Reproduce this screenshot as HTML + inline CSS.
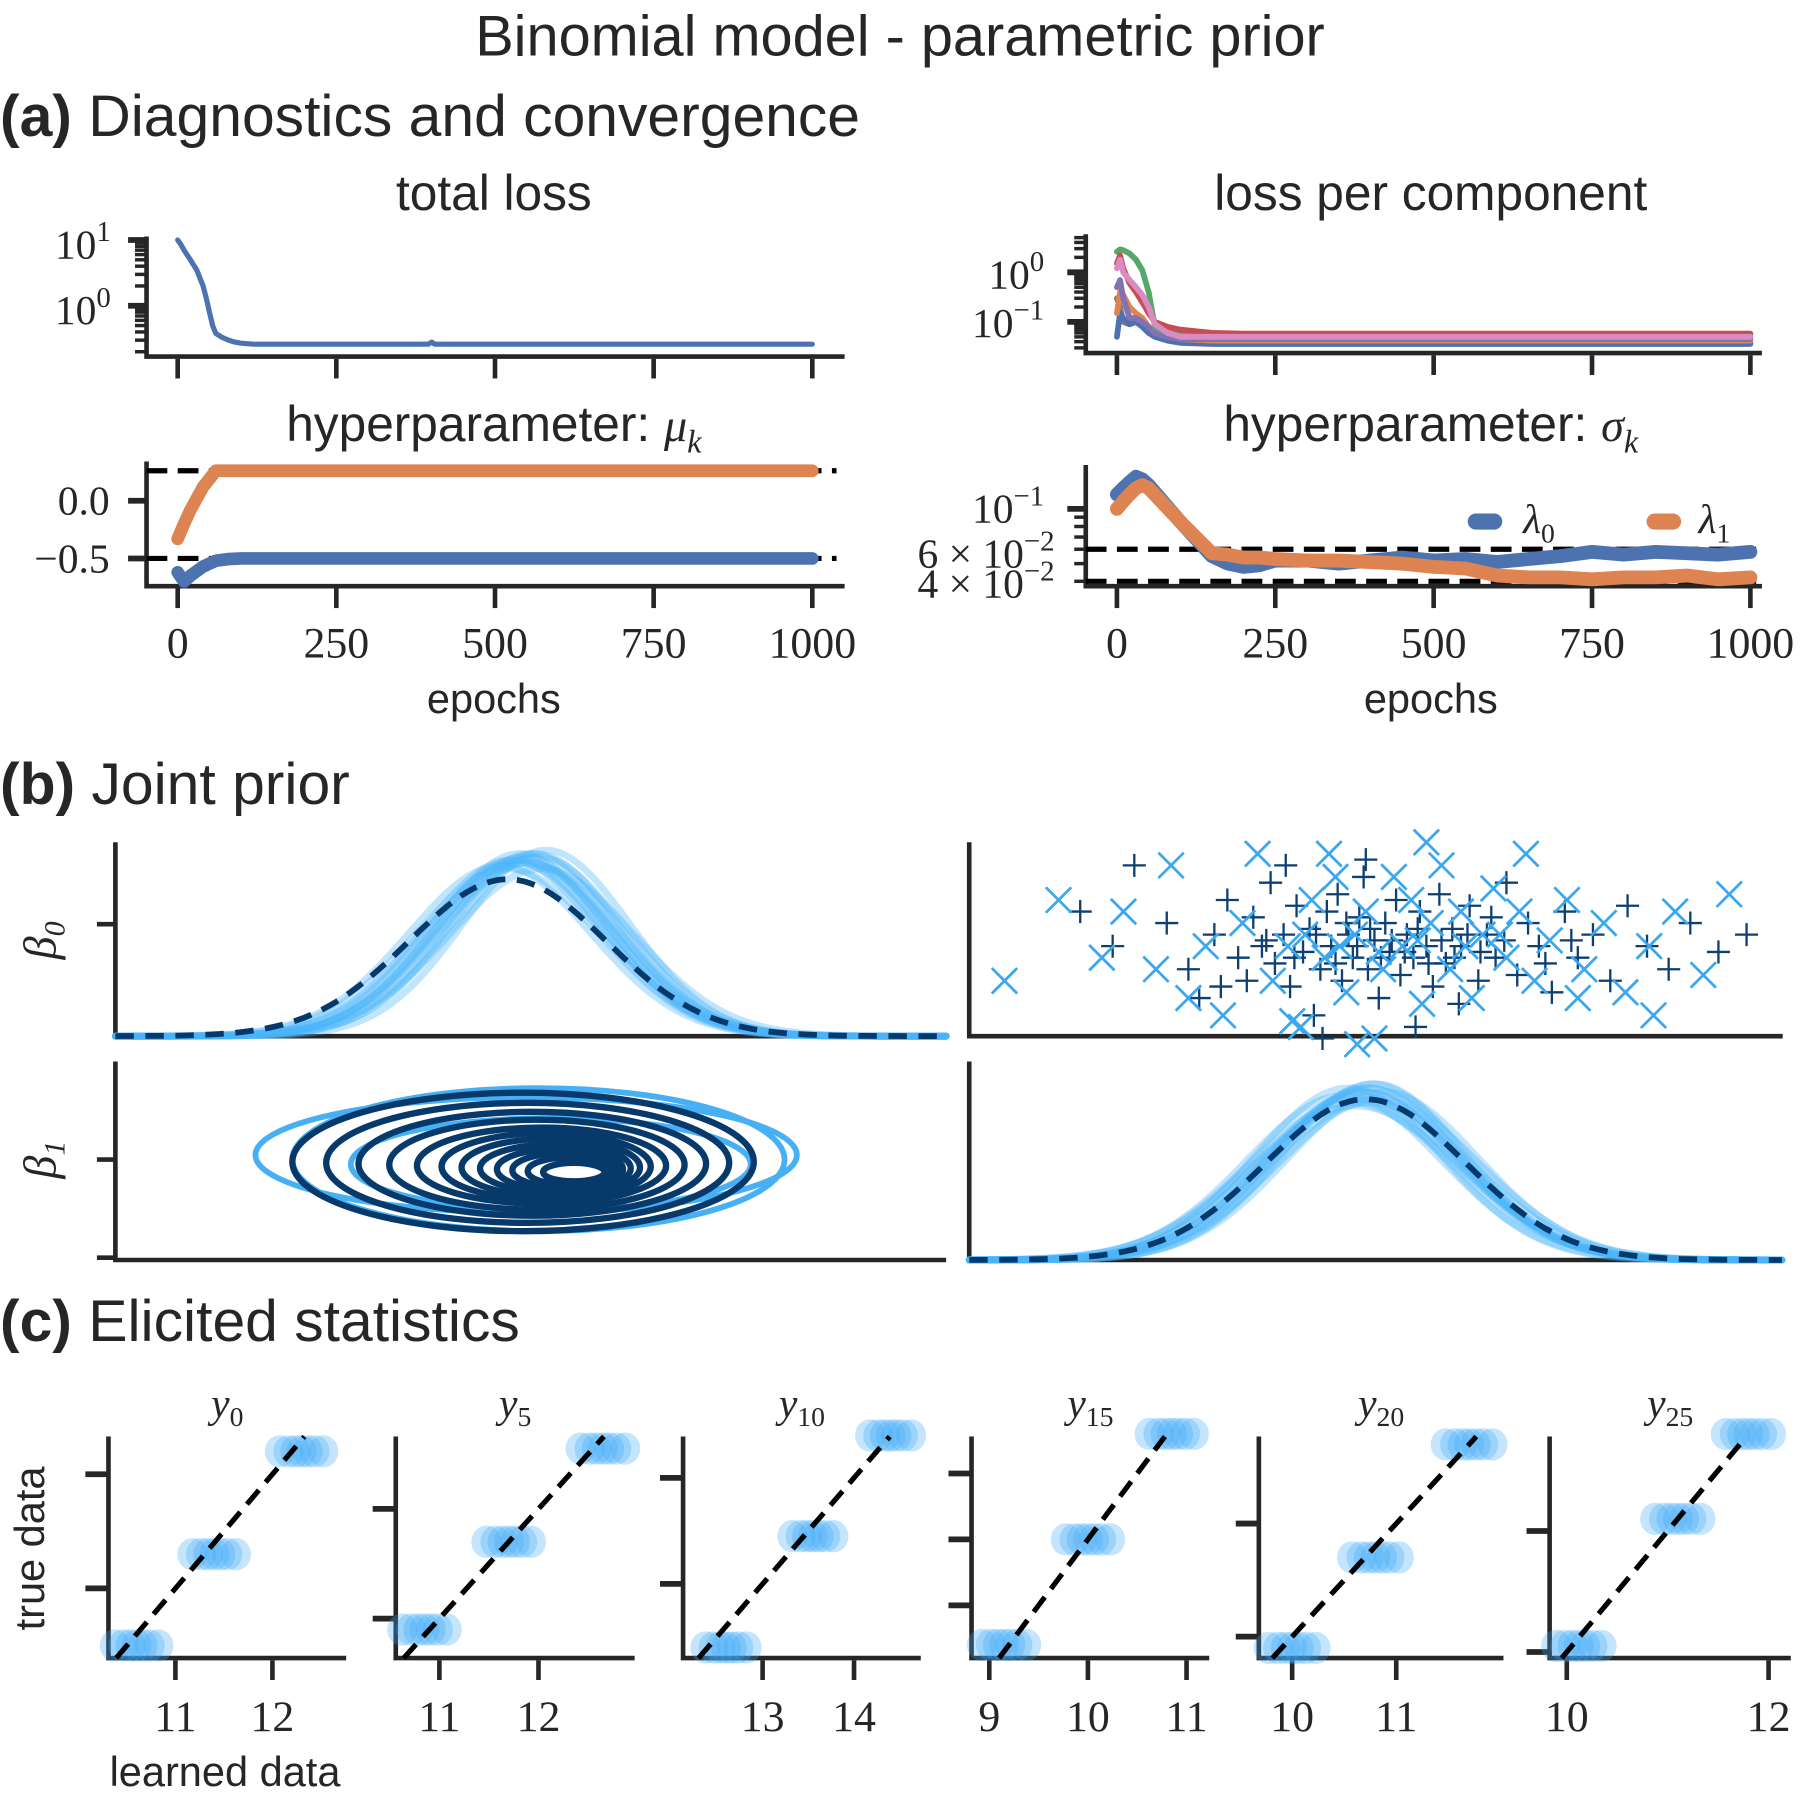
<!DOCTYPE html>
<html><head><meta charset="utf-8"><style>
html,body{margin:0;padding:0;background:#fff}
svg{display:block}
.sans{font-family:"Liberation Sans",sans-serif;fill:#262626}
.ser{font-family:"Liberation Serif",serif;fill:#262626}
</style></head><body>
<svg id="fig" xmlns="http://www.w3.org/2000/svg" width="1800" height="1800" viewBox="0 0 1560 1560">
<rect width="1560" height="1560" fill="#fff"/>
<text class="sans" x="780" y="48" font-size="50" text-anchor="middle">Binomial model - parametric prior</text>
<text class="sans" x="0" y="118" font-size="51"><tspan font-weight="bold">(a)</tspan> Diagnostics and convergence</text>
<text class="sans" x="0" y="697" font-size="51"><tspan font-weight="bold">(b)</tspan> Joint prior</text>
<text class="sans" x="0" y="1162" font-size="51"><tspan font-weight="bold">(c)</tspan> Elicited statistics</text>
<text class="sans" x="428" y="182" font-size="43" text-anchor="middle">total loss</text>
<text class="sans" x="1240" y="182" font-size="43" text-anchor="middle">loss per component</text>
<text class="sans" x="428" y="382" font-size="43" text-anchor="middle">hyperparameter: <tspan class="ser" font-style="italic" font-size="40">μ</tspan><tspan class="ser" font-style="italic" font-size="28" dy="10">k</tspan></text>
<text class="sans" x="1240" y="382" font-size="43" text-anchor="middle">hyperparameter: <tspan class="ser" font-style="italic" font-size="40">σ</tspan><tspan class="ser" font-style="italic" font-size="28" dy="10">k</tspan></text>
<text class="sans" x="428" y="618" font-size="36" text-anchor="middle">epochs</text>
<text class="sans" x="1240" y="618" font-size="36" text-anchor="middle">epochs</text>
<text class="ser" font-style="italic" font-size="40" transform="translate(48,815) rotate(-90)" text-anchor="middle">β<tspan font-size="26" dy="8">0</tspan></text>
<text class="ser" font-style="italic" font-size="40" transform="translate(48,1005) rotate(-90)" text-anchor="middle">β<tspan font-size="26" dy="8">1</tspan></text>
<text class="sans" font-size="36" transform="translate(38,1342) rotate(-90)" text-anchor="middle">true data</text>
<text class="sans" x="195" y="1548" font-size="36" text-anchor="middle">learned data</text>
<g id="g"></g>
</svg>
<script>
// ---------- data ----------
const epochTicks=[0,250,500,750,1000];
const tlEpochs=[0,5,10,20,30,40,45,50,55,60,70,80,90,100,120,150,200,300,395,400,405,500,600,700,800,900,1000];
const tlValues=[10,8.5,7,5,3.5,2,1.3,0.8,0.5,0.38,0.33,0.3,0.28,0.27,0.26,0.26,0.26,0.26,0.26,0.28,0.26,0.26,0.26,0.26,0.26,0.26,0.26];
const lcEpochs=[0,5,10,20,30,40,50,60,80,100,150,200,400,600,800,1000];
const lcBlue=[0.05,0.15,0.12,0.09,0.1,0.08,0.06,0.05,0.042,0.038,0.036,0.036,0.036,0.036,0.036,0.036];
const lcOrange=[0.15,0.4,0.35,0.2,0.15,0.12,0.08,0.06,0.05,0.045,0.042,0.042,0.042,0.042,0.042,0.042];
const lcGreen=[2.6,2.9,2.8,2.4,1.8,1.1,0.4,0.08,0.06,0.055,0.05,0.05,0.05,0.05,0.05,0.05];
const lcRed=[1.5,2.2,1.2,0.6,0.4,0.25,0.15,0.1,0.08,0.07,0.06,0.058,0.058,0.058,0.058,0.058];
const lcPurple=[0.5,0.7,0.3,0.12,0.12,0.1,0.08,0.06,0.05,0.045,0.045,0.045,0.045,0.045,0.045,0.045];
const lcBrown=[0.3,0.2,0.1,0.09,0.11,0.09,0.07,0.055,0.045,0.04,0.038,0.038,0.038,0.038,0.038,0.038];
const lcPink=[1.2,1.8,1.0,0.7,0.5,0.35,0.2,0.09,0.06,0.05,0.05,0.05,0.05,0.05,0.05,0.05];
const muEpochs=[0,10,20,40,60,80,100,200,400,600,800,1000];
const muLambda0=[-0.62,-0.70,-0.65,-0.57,-0.52,-0.505,-0.5,-0.5,-0.5,-0.5,-0.5,-0.5];
const muLambda1=[-0.33,-0.2,-0.08,0.12,0.26,0.26,0.26,0.26,0.26,0.26,0.26,0.26];
const muTargets=[0.26,-0.5];
const muTicks=[0.0,-0.5];
const muTickLabels=["0.0","−0.5"];
const sgEpochs=[0,10,20,30,40,50,100,150,175,200,225,250,300,350,400,450,500,550,600,650,700,750,800,850,900,950,1000];
const sgLambda0=[0.12,0.13,0.14,0.15,0.145,0.135,0.085,0.055,0.05,0.048,0.049,0.052,0.052,0.05,0.052,0.054,0.052,0.053,0.051,0.053,0.055,0.058,0.056,0.058,0.057,0.056,0.058];
const sgLambda1=[0.1,0.11,0.12,0.13,0.135,0.13,0.085,0.057,0.056,0.054,0.054,0.053,0.052,0.052,0.051,0.05,0.048,0.047,0.043,0.042,0.042,0.041,0.042,0.042,0.043,0.041,0.042];
const sgTargets=[0.06,0.04];
const b0Mus=[-0.49,-0.495,-0.485,-0.5,-0.48,-0.49,-0.505,-0.475,-0.495,-0.488,-0.482,-0.498,-0.478,-0.492,-0.486];
const b0Sds=[0.056,0.058,0.055,0.06,0.056,0.057,0.059,0.054,0.057,0.058,0.055,0.057,0.06,0.055,0.058];
const b0True=[-0.5,0.064];
const b1Mus=[0.262,0.258,0.265,0.255,0.26,0.268,0.252,0.263,0.257,0.261,0.266,0.259,0.27,0.254,0.264];
const b1Sds=[0.043,0.045,0.042,0.047,0.044,0.046,0.045,0.043,0.048,0.044,0.042,0.046,0.044,0.043,0.047];
const b1True=[0.262,0.046];
const plusPts=[[0.130,-0.47],[0.145,-0.50],[0.155,-0.43],[0.170,-0.48],[0.180,-0.52],[0.185,-0.545],[0.192,-0.49],[0.198,-0.46],[0.203,-0.51],[0.207,-0.53],[0.210,-0.475],[0.214,-0.50],[0.218,-0.445],[0.220,-0.515],[0.224,-0.49],[0.227,-0.535],[0.230,-0.465],[0.233,-0.505],[0.236,-0.485],[0.238,-0.56],[0.241,-0.52],[0.244,-0.47],[0.246,-0.50],[0.249,-0.455],[0.251,-0.53],[0.254,-0.49],[0.256,-0.51],[0.259,-0.475],[0.261,-0.44],[0.263,-0.52],[0.266,-0.495],[0.268,-0.545],[0.271,-0.48],[0.273,-0.505],[0.276,-0.46],[0.278,-0.525],[0.281,-0.49],[0.284,-0.51],[0.287,-0.47],[0.290,-0.50],[0.293,-0.535],[0.296,-0.455],[0.299,-0.515],[0.302,-0.485],[0.306,-0.50],[0.310,-0.465],[0.314,-0.53],[0.318,-0.49],[0.322,-0.51],[0.327,-0.445],[0.332,-0.525],[0.337,-0.48],[0.342,-0.50],[0.348,-0.54],[0.354,-0.47],[0.360,-0.51],[0.367,-0.49],[0.375,-0.53],[0.383,-0.465],[0.392,-0.50],[0.402,-0.52],[0.412,-0.48],[0.425,-0.505],[0.438,-0.49],[0.242,-0.58],[0.262,-0.425],[0.285,-0.57],[0.225,-0.43],[0.305,-0.55],[0.195,-0.535],[0.216,-0.495],[0.229,-0.51],[0.239,-0.49],[0.248,-0.515],[0.253,-0.48],[0.258,-0.50],[0.264,-0.485],[0.269,-0.51],[0.274,-0.495],[0.280,-0.505],[0.286,-0.485],[0.291,-0.515],[0.297,-0.495],[0.303,-0.51],[0.309,-0.49],[0.315,-0.505],[0.320,-0.475],[0.326,-0.495],[0.345,-0.515],[0.357,-0.495]];
const crossPts=[[0.095,-0.53],[0.120,-0.46],[0.140,-0.51],[0.150,-0.47],[0.165,-0.52],[0.172,-0.43],[0.188,-0.50],[0.196,-0.56],[0.205,-0.48],[0.212,-0.42],[0.219,-0.53],[0.226,-0.50],[0.232,-0.57],[0.237,-0.46],[0.243,-0.51],[0.248,-0.44],[0.253,-0.54],[0.257,-0.49],[0.262,-0.47],[0.266,-0.58],[0.270,-0.52],[0.275,-0.44],[0.279,-0.50],[0.283,-0.46],[0.288,-0.55],[0.292,-0.48],[0.297,-0.43],[0.301,-0.52],[0.306,-0.47],[0.311,-0.545],[0.316,-0.49],[0.321,-0.45],[0.327,-0.51],[0.333,-0.47],[0.340,-0.53],[0.347,-0.495],[0.355,-0.46],[0.363,-0.52],[0.372,-0.48],[0.382,-0.54],[0.393,-0.50],[0.405,-0.47],[0.418,-0.525],[0.430,-0.455],[0.245,-0.42],[0.290,-0.41],[0.180,-0.545],[0.228,-0.565],[0.258,-0.585],[0.336,-0.42],[0.360,-0.545],[0.395,-0.56],[0.234,-0.49],[0.268,-0.505],[0.286,-0.495],[0.308,-0.50],[0.324,-0.49],[0.250,-0.50]];
const contourDarkW=[0.150,0.131,0.113,0.096,0.081,0.068,0.058,0.049,0.041,0.034,0.027,0.020];
const contourDarkH=[0.060,0.052,0.045,0.039,0.033,0.029,0.025,0.021,0.018,0.015,0.012,0.008];
const contourLightW=[0.176,0.160,0.130];
const contourLightH=[0.050,0.062,0.040];
const elicitTitles=["0","5","10","15","20","25"];
const elicitXTicks=[[11,12],[11,12],[13,14],[9,10,11],[10,11],[10,12]];
const elicitYTicks=[[11,12],[11,12],[13,14],[9.5,10,10.5],[10,11],[10,11]];
const elicitTrue=[[10.5,11.3,12.2],[10.9,11.7,12.55],[12.4,13.45,14.4],[9.2,10.0,10.8],[9.9,10.7,11.7],[10.05,11.1,11.8]];
const elicitLearned=[[10.6,11.4,12.3],[10.85,11.7,12.65],[12.6,13.55,14.4],[9.15,10.0,10.85],[10.0,10.8,11.7],[10.12,11.1,11.8]];
const elicitSpread=[-0.25,-0.15,-0.07,0,0.07,0.15,0.25];
// ---------- helpers ----------
const NS="http://www.w3.org/2000/svg";
const G=document.getElementById('g');
function mk(tag,attrs,parent){const e=document.createElementNS(NS,tag);for(const k in attrs)e.setAttribute(k,attrs[k]);(parent||G).appendChild(e);return e;}
const AX="#262626";
function lin(d0,d1,r0,r1){return v=>r0+(v-d0)/(d1-d0)*(r1-r0);}
function logs(d0,d1,r0,r1){return v=>r0+(Math.log10(v)-Math.log10(d0))/(Math.log10(d1)-Math.log10(d0))*(r1-r0);}
function axesLines(x0,x1,y0,y1,name){
  const a=mk('path',{d:`M${x0} ${y0} V${y1} H${x1}`,fill:'none',stroke:AX,'stroke-width':4});
  
  
}
function pathD(xs,ys,sx,sy){return xs.map((v,i)=>(i?'L':'M')+sx(v).toFixed(1)+' '+sy(ys[i]).toFixed(1)).join(' ');}
function line(xs,ys,sx,sy,color,w,name,extra){
  const p=mk('path',Object.assign({d:pathD(xs,ys,sx,sy),fill:'none',stroke:color,'stroke-width':w,'stroke-linecap':'round','stroke-linejoin':'round'},extra||{}));
  
  
}
function xTicks(ticks,sx,yb,labels,name,fs,ly){
  ticks.forEach((t,i)=>{
    const l=mk('line',{x1:sx(t),x2:sx(t),y1:yb,y2:yb+17,stroke:AX,'stroke-width':4});
    
    
    if(labels){const tx=mk('text',{x:sx(t),y:ly,'font-size':fs||38,'text-anchor':'middle',class:'ser'});tx.textContent=labels[i];
    
    }
  });
}
function yTick(x,y,len,w,name){
  const l=mk('line',{x1:x-len,x2:x,y1:y,y2:y,stroke:AX,'stroke-width':w});
  
  
}
function powLabel(x,y,base,exp,name){
  const t=mk('text',{x:x,y:y,'font-size':36,'text-anchor':'end',class:'ser'});
  t.innerHTML=base+'<tspan dy="-15" font-size="25">'+exp+'</tspan>';
  
  
}
function hdash(x0,x1,y,name){
  const l=mk('line',{x1:x0,x2:x1,y1:y,y2:y,stroke:'#000','stroke-width':4.5,'stroke-dasharray':'18 9'});
  
  
}
// ---------- (a) total loss ----------
{const sx=lin(0,1000,154,704), sy=logs(1,10,265,208);
 axesLines(127,732,205,309,'total-loss');
 xTicks(epochTicks,sx,311,null,'total-loss-x');
 for(let e=-1;e<=1;e++)for(let m=1;m<10;m++){const v=m*Math.pow(10,e);const y=sy(v);if(y<205||y>309)continue;yTick(127,y,m===1?16:10,m===1?5:3,'total-loss-y-tick');}
 powLabel(96,224,'10','1','total-loss-y-label'); powLabel(96,281,'10','0','total-loss-y-label');
 line(tlEpochs,tlValues,sx,sy,'#4c72b0',4.5,'total-loss-line');}
// ---------- (a) loss per component ----------
{const sx=lin(0,1000,968,1517), sy=logs(0.1,1,279,236);
 axesLines(941,1527,203,306,'loss-component');
 xTicks(epochTicks,sx,308,null,'loss-component-x');
 for(let e=-2;e<=0;e++)for(let m=1;m<10;m++){const v=m*Math.pow(10,e);const y=sy(v);if(y<203||y>306)continue;yTick(941,y,m===1?16:10,m===1?5:3,'loss-component-y-tick');}
 powLabel(905,250,'10','0','loss-component-y-label'); powLabel(905,292,'10','−1','loss-component-y-label');
 const series=[[lcBrown,'#937860'],[lcBlue,'#4c72b0'],[lcOrange,'#dd8452'],[lcPurple,'#8172b3'],[lcGreen,'#55a868'],[lcRed,'#c44e52'],[lcPink,'#da8bc3']];
 series.forEach((s,i)=>line(lcEpochs,s[0],sx,sy,s[1],5,'loss-component-line-'+i));}
// ---------- (a) mu ----------
{const sx=lin(0,1000,154,704), sy=lin(0,-0.5,434,484);
 axesLines(127,732,400,508,'mu');
 xTicks(epochTicks,sx,510,epochTicks.map(String),'mu-x',38,570);
 muTicks.forEach((t,i)=>{yTick(127,sy(t),16,5,'mu-y-tick');const tx=mk('text',{x:95,y:sy(t)+12,'font-size':36,'text-anchor':'end',class:'ser'});tx.textContent=muTickLabels[i];
 
 });
 muTargets.forEach(t=>hdash(127,725,sy(t),'mu-target-line'));
 line(muEpochs,muLambda1,sx,sy,'#dd8452',11,'mu-lambda1-line');
 line(muEpochs,muLambda0,sx,sy,'#4c72b0',11,'mu-lambda0-line');}
// ---------- (a) sigma ----------
{const sx=lin(0,1000,968,1517), sy=logs(0.1,0.06,441,476);
 axesLines(941,1527,403,508,'sigma');
 xTicks(epochTicks,sx,510,epochTicks.map(String),'sigma-x',38,570);
 [0.04,0.05,0.06,0.07,0.08,0.09,0.1].forEach(v=>{const y=sy(v);yTick(941,y,v===0.1?16:10,v===0.1?5:3,'sigma-y-tick');});
 powLabel(905,453,'10','−1','sigma-y-label');
 powLabel(914,492,'6 × 10','−2','sigma-y-label'); powLabel(914,518,'4 × 10','−2','sigma-y-label');
 sgTargets.forEach(t=>hdash(941,1522,sy(t),'sigma-target-line'));
 line(sgEpochs,sgLambda0,sx,sy,'#4c72b0',12,'sigma-lambda0-line');
 line(sgEpochs,sgLambda1,sx,sy,'#dd8452',12,'sigma-lambda1-line');
 const lg=mk('g',{});
 
 [['#4c72b0',1287,'0',1320],['#dd8452',1442,'1',1472]].forEach(e=>{
  const m=mk('line',{x1:e[1]-8,x2:e[1]+8,y1:452,y2:452,stroke:e[0],'stroke-width':14,'stroke-linecap':'round'},lg);
  
  
  const t=mk('text',{x:e[3],y:462,'font-size':36,class:'ser','font-style':'italic'},lg);t.innerHTML='λ<tspan font-style="normal" font-size="24" dy="8">'+e[2]+'</tspan>';
  
  });}
// ---------- (b) joint prior ----------
const sB0=lin(-0.755,-0.215,100,820);
const sB1=lin(0.0787,0.4547,840,1545);
const rowB0=v=>820-(v+0.5)*1000;
const rowB1=v=>1005-(v-0.262)*1000;
function dens(x,m,s){return Math.exp(-0.5*((x-m)/s)**2)/(s*Math.sqrt(2*Math.PI));}
function kde(xs,sx,sy,m,s,color,w,name,extra){const ys=xs.map(x=>dens(x,m,s));line(xs,ys,sx,sy,color,w,name,extra);}
{axesLines(100,820,730,898,'kde-beta0');
 yTick(100,rowB0(-0.481),16,4,'kde-beta0-y-tick');
 const grid=[];for(let i=0;i<=120;i++)grid.push(-0.755+i*0.0045);
 const sy=lin(0,7.7,898,730);
 b0Mus.forEach((m,i)=>kde(grid,sB0,sy,m,b0Sds[i],'#4ab5fa',6,'kde-beta0-sample',{'stroke-opacity':0.35}));
 kde(grid,sB0,sy,b0True[0],b0True[1],'#06396b',5,'kde-beta0-true',{'stroke-dasharray':'16 10','stroke-linecap':'butt'});}
{axesLines(840,1545,730,898,'scatter');
 plusPts.forEach(p=>{const x=sB1(p[0]),y=rowB0(p[1]);const e=mk('path',{d:`M${x-10} ${y}H${x+10}M${x} ${y-10}V${y+10}`,stroke:'#0d3f73','stroke-width':2});
  
  });
 crossPts.forEach(p=>{const x=sB1(p[0]),y=rowB0(p[1]);const e=mk('path',{d:`M${x-11} ${y-11}L${x+11} ${y+11}M${x-11} ${y+11}L${x+11} ${y-11}`,stroke:'#3ba7ee','stroke-width':2.4});
  
  });}
{axesLines(100,820,920,1092,'contour');
 yTick(100,rowB1(0.262),16,4,'contour-y-tick');
 yTick(100,1090,16,4,'contour-y-tick');
 const cx=-0.48, cy=0.262;
 contourLightW.forEach((w,i)=>{const e=mk('ellipse',{cx:sB0(cx+(i-1)*0.008),cy:rowB1(cy-(i-1)*0.004),rx:w*1333,ry:contourLightH[i]*1000,fill:'none',stroke:'#47b0f5','stroke-width':5});
  
  });
 contourDarkW.forEach((w,i)=>{const e=mk('ellipse',{cx:sB0(cx-0.01+i*0.003),cy:rowB1(cy-0.002-i*0.0008),rx:w*1333,ry:contourDarkH[i]*1000,fill:'none',stroke:'#073a6b','stroke-width':5.5});
  
  });}
{axesLines(840,1545,920,1092,'kde-beta1');
 const grid=[];for(let i=0;i<=120;i++)grid.push(0.0787+i*0.00313);
 const sy=lin(0,10.7,1092,920);
 b1Mus.forEach((m,i)=>kde(grid,sB1,sy,m,b1Sds[i],'#4ab5fa',6,'kde-beta1-sample',{'stroke-opacity':0.35}));
 kde(grid,sB1,sy,b1True[0],b1True[1],'#06396b',5,'kde-beta1-true',{'stroke-dasharray':'16 10','stroke-linecap':'butt'});}
// ---------- (c) elicited statistics ----------
const cLeft=[94,343,592,842,1091,1343], cRight=[300,550,798,1048,1303,1552];
const cXdom=[[10.31,12.76],[10.56,12.97],[12.13,14.73],[8.82,11.23],[9.68,12.03],[9.83,12.22]];
const cYdom=[[10.39,12.33],[10.64,12.66],[12.30,14.39],[9.10,10.78],[9.81,11.77],[9.95,11.78]];
elicitTitles.forEach((ttl,k)=>{
  const L=cLeft[k],R=cRight[k],B=1437,T=1245;
  const sx=lin(cXdom[k][0],cXdom[k][1],L,R), sy=lin(cYdom[k][0],cYdom[k][1],B,T);
  axesLines(L,R,T,B,'elicit-'+k);
  xTicks(elicitXTicks[k],sx,B+2,elicitXTicks[k].map(String),'elicit-'+k+'-x',38,1500);
  elicitYTicks[k].forEach(t=>yTick(L,sy(t),20,5,'elicit-'+k+'-y-tick'));
  const tt=mk('text',{x:(L+R)/2,y:1228,'font-size':36,'text-anchor':'middle',class:'ser','font-style':'italic'});
  tt.innerHTML='y<tspan font-style="normal" font-size="24" dy="8">'+ttl+'</tspan>';
  
  
  elicitTrue[k].forEach((tv,j)=>{elicitSpread.forEach(d=>{
    const c=mk('ellipse',{cx:sx(elicitLearned[k][j]+d*0.9),cy:sy(tv),rx:13,ry:14,fill:'#3aa9f7','fill-opacity':0.3});
    
    });});
  const lo=Math.max(cXdom[k][0],cYdom[k][0]), hi=Math.min(cXdom[k][1],cYdom[k][1]);
  const dl=mk('line',{x1:sx(lo),y1:sy(lo),x2:sx(hi),y2:sy(hi),stroke:'#000','stroke-width':4.5,'stroke-dasharray':'16 9'});
  
  
});
</script>
</body></html>
